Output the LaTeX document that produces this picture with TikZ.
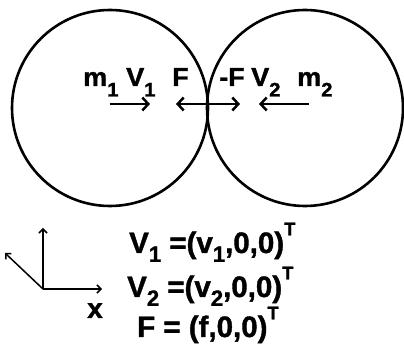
\documentclass[tikz,border=0pt]{standalone}
\usepackage{fontspec}
\setmainfont{Liberation Sans}[BoldFeatures={FakeBold=1.3}]
\usetikzlibrary{arrows.meta}
\newcommand\dn[1]{\raisebox{-0.3em}{\scalebox{0.75}{#1}}}
\newcommand\dnt[1]{\raisebox{-0.4em}{\scalebox{0.75}{#1}}}
\newcommand\upr[1]{\raisebox{0.6em}{\scalebox{0.62}{#1}}}
\newcommand\wide[1]{\scalebox{1.04}[1]{#1}}
\begin{document}
\begin{tikzpicture}[x=1pt,y=-1pt,
  circ/.style={draw, circle, line width=2.6pt, minimum size=196pt, inner sep=0pt},
  lbl/.style={font=\fontsize{26}{26}\selectfont\bfseries, inner sep=0pt, anchor=base west},
  eq/.style={font=\fontsize{29.5}{29.5}\selectfont\bfseries, inner sep=0pt, anchor=base west},
  farrow/.style={line width=2.5pt, -{Straight Barb[length=6pt,width=13pt]}},
  axis/.style={line width=1.5pt, -{Straight Barb[length=4pt,width=8pt]}}]
\useasboundingbox (0,0) rectangle (404,352);
\node (c1) [circ] at (110,108) {};
\node (c2) [circ] at (305,108) {};
% labels
\node (m1) [lbl] at (83,86) {\wide{m\dnt{1}}};
\node (v1) [lbl] at (126,86) {\wide{V\dnt{1}}};
\node (f1) [lbl] at (172,86) {\wide{F}};
\node (f2) [lbl] at (219,86) {\wide{-F}};
\node (v2) [lbl] at (251,86) {\wide{V\dnt{2}}};
\node (m2) [lbl] at (297,86) {\wide{m\dnt{2}}};
% arrows
\coordinate (a1s) at (110,104); \coordinate (a1e) at (150,104);
\coordinate (a2s) at (203,104); \coordinate (a2e) at (176,104);
\coordinate (a3s) at (203,104); \coordinate (a3e) at (240,104);
\coordinate (a4s) at (309,104); \coordinate (a4e) at (259,104);
\draw[farrow] (a1s) -- (a1e);
\draw[farrow] (a2s) -- (a2e);
\draw[farrow] (a3s) -- (a3e);
\draw[farrow] (a4s) -- (a4e);
% axes
\coordinate (o) at (43,289);
\coordinate (ay) at (43,228);
\coordinate (ax) at (102,289);
\coordinate (az) at (5,253);
\draw[axis] (o) -- (ay);
\draw[axis] (o) -- (ax);
\draw[axis] (o) -- (az);
\node (xl) [font=\fontsize{28}{28}\selectfont\bfseries, inner sep=0pt, anchor=base] at (95,318) {x};
% equations
\node (e1) [eq] at (129,253) {V\dn{1} =(v\dn{1},0,0)\upr{T}};
\node (e2) [eq] at (127,297) {V\dn{2} =(v\dn{2},0,0)\upr{T}};
\node (e3) [eq] at (137,337) {F = (f,0,0)\upr{T}};
\end{tikzpicture}
\end{document}
